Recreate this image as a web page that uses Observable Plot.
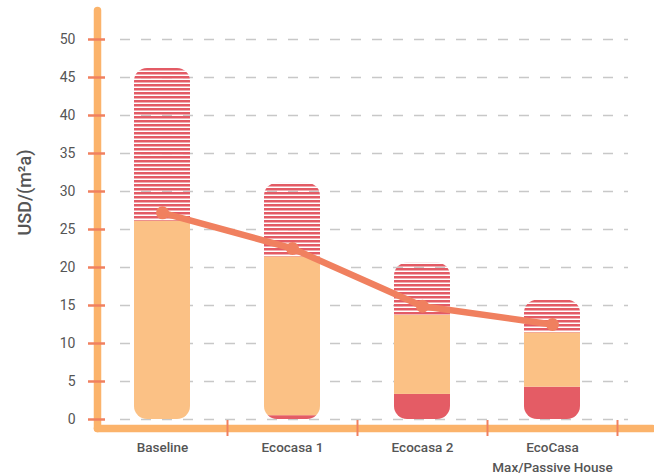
<!DOCTYPE html>
<html>
<head>
<meta charset="utf-8">
<script src="https://cdn.jsdelivr.net/npm/d3@7"></script>
<script src="https://cdn.jsdelivr.net/npm/@observablehq/plot@0.6"></script>
<style>
  html, body { margin: 0; padding: 0; background: #fff; }
  #chart { width: 654px; height: 476px; }
</style>
</head>
<body>
<div id="chart"></div>
<script>
// ---- data ----
const categories = ["Baseline", "Ecocasa 1", "Ecocasa 2", "EcoCasa\nMax/Passive House"];
const baseCost = [0, 0.5, 3.3, 4.25];     // solid red bottom segment
const midCost  = [26.1, 20.9, 10.4, 7.15]; // orange middle segment
const topCost  = [20.1, 9.7, 6.9, 4.3];    // hatched top segment
const lineValues = [27.2, 22.5, 14.9, 12.5];
const yTicks = [0, 5, 10, 15, 20, 25, 30, 35, 40, 45, 50];
const yLabel = ["USD/(m²a)"];
const partNames = ["base", "mid", "top"];

// ---- derived tables ----
const segments = [];
categories.forEach((c, i) => {
  segments.push({cat: c, part: "base", value: baseCost[i]});
  segments.push({cat: c, part: "mid", value: midCost[i]});
  segments.push({cat: c, part: "top", value: topCost[i]});
});
const totals = categories.map((c, i) => ({cat: c, total: baseCost[i] + midCost[i] + topCost[i]}));
const lineData = categories.map((c, i) => ({cat: c, v: lineValues[i]}));

const RED = "#E45C65", ORANGE = "#FBC185", LINE = "#F0805F", AXIS = "#FBB36B", TEXT = "#555";
const FONT = "Roboto, 'DejaVu Sans Condensed', sans-serif";
const RADIUS = 13;

const svg = Plot.plot({
  width: 654,
  height: 476,
  marginLeft: 97,
  marginRight: 2,
  marginTop: 10,
  marginBottom: 48,
  style: {fontFamily: FONT, fontSize: "14px", color: TEXT, background: "#fff"},
  x: {domain: categories, range: [97, 617], padding: 0, label: null},
  y: {domain: [0, 50], range: [419, 39], label: null},
  color: {domain: partNames, range: [RED, ORANGE, "url(#hatch)"]},
  marks: [
    Plot.ruleY(yTicks, {y: d => d, stroke: "#c8c8c8", strokeWidth: 1.5, strokeDasharray: "10,11", insetLeft: 23, insetRight: 24}),
    Plot.barY(totals, {x: "cat", y: "total", rx: RADIUS, insetLeft: 37, insetRight: 37, fill: "white"}),
    Plot.barY(segments, {x: "cat", y: "value", fill: "part", order: partNames, insetLeft: 37, insetRight: 37}),
    Plot.frame({anchor: "left", stroke: AXIS, strokeWidth: 7.5, strokeLinecap: "round"}),
    Plot.frame({anchor: "bottom", stroke: AXIS, strokeWidth: 7.5, strokeLinecap: "round"}),
    Plot.axisY({ticks: yTicks, text: null, tickSize: 17, dx: 8, stroke: LINE, strokeWidth: 2.5, strokeOpacity: 1, label: null}),
    Plot.axisY({ticks: yTicks, tickSize: 0, tickPadding: 22, fill: TEXT, fontSize: 14, label: null}),
    Plot.axisX({text: null, tickSize: 16, dx: 65, dy: -8, stroke: LINE, strokeWidth: 2, strokeOpacity: 1, label: null}),
    Plot.axisX({tickSize: 0, tickPadding: 10, fill: TEXT, fontSize: 13.5, fontWeight: 500, lineHeight: 1.45, label: null}),
    Plot.line(lineData, {x: "cat", y: "v", stroke: LINE, strokeWidth: 6.5, strokeLinecap: "round", strokeLinejoin: "round"}),
    Plot.dot(lineData, {x: "cat", y: "v", r: 6.5, fill: LINE}),
    Plot.text(yLabel, {text: d => d, frameAnchor: "left", textAnchor: "middle", rotate: -90, dx: -72, dy: -27, fontSize: 18, fontWeight: 500, fill: TEXT})
  ]
});

// hatch pattern + rounded-bar mask built from the first bar mark's rects
const ns = "http://www.w3.org/2000/svg";
const defs = document.createElementNS(ns, "defs");
const pattern = document.createElementNS(ns, "pattern");
pattern.setAttribute("id", "hatch");
pattern.setAttribute("patternUnits", "userSpaceOnUse");
pattern.setAttribute("width", "8");
pattern.setAttribute("height", "4");
const stripe = document.createElementNS(ns, "rect");
stripe.setAttribute("width", "8");
stripe.setAttribute("height", "2.5");
stripe.setAttribute("fill", "#E35B65");
pattern.appendChild(stripe);
defs.appendChild(pattern);
const mask = document.createElementNS(ns, "mask");
mask.setAttribute("id", "barmask");
mask.setAttribute("maskUnits", "userSpaceOnUse");
mask.setAttribute("x", "0");
mask.setAttribute("y", "0");
mask.setAttribute("width", "654");
mask.setAttribute("height", "476");
const barGroups = svg.querySelectorAll('g[aria-label="bar"]');
if (barGroups.length >= 2) {
  const outline = barGroups[0], seg = barGroups[1];
  outline.querySelectorAll("rect").forEach(r => {
    const c = r.cloneNode(true);
    c.setAttribute("fill", "white");
    c.setAttribute("rx", String(RADIUS));
    c.setAttribute("ry", String(RADIUS));
    mask.appendChild(c);
  });
  outline.remove();
  seg.setAttribute("mask", "url(#barmask)");
}
defs.appendChild(mask);
svg.insertBefore(defs, svg.firstChild);

document.getElementById("chart").appendChild(svg);
</script>
</body>
</html>
